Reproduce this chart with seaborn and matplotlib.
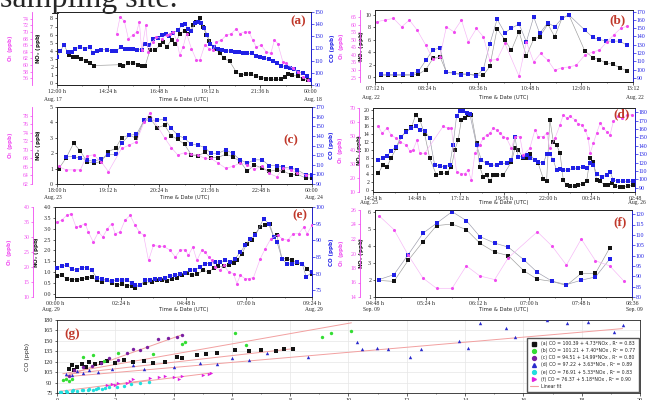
import numpy as np
import matplotlib
matplotlib.use("Agg")
import matplotlib.pyplot as plt
from matplotlib.ticker import AutoMinorLocator, FormatStrFormatter
from matplotlib.lines import Line2D
import seaborn as sns

# ---------------- panel (a): Aug 17-18, hours after 12:00 ----------------
A_T_NOX = [0.55, 0.75, 0.95, 1.15, 1.35, 1.55, 1.75, 2.98, 3.14, 3.37, 3.6, 3.84, 4.0, 4.16,
           4.39, 4.63, 4.86, 5.02, 5.18, 5.41, 5.57, 5.8, 6.04, 6.2, 6.43, 6.59, 6.75, 6.9, 7.06, 7.2,
           7.45, 7.7, 7.9, 8.16, 8.47, 8.7, 8.94, 9.18, 9.41, 9.65, 9.88, 10.1, 10.35, 10.6, 10.75,
           10.9, 11.1, 11.37, 11.6, 11.84]
A_NOX = [3.5, 3.3, 3.2, 3.0, 2.8, 2.5, 2.2, 2.3, 2.1, 2.5, 2.5, 2.3, 2.1, 2.1,
         4.1, 4.1, 4.7, 5.1, 4.5, 5.4, 4.8, 6.1, 6.5, 6.1, 7.2, 7.6, 8.0, 7.0, 6.0, 5.2,
         4.3, 3.7, 3.1, 2.7, 1.4, 1.0, 1.2, 1.1, 0.9, 0.7, 0.6, 0.5, 0.5, 0.5, 0.8,
         1.1, 1.0, 0.9, 0.6, 0.4]
A_T_CO = [0.0, 0.16, 0.33, 0.5, 0.7, 0.85, 1.1, 1.3, 1.55, 1.7, 1.9, 2.1, 2.35, 2.6, 2.8, 3.0,
          3.2, 3.4, 3.6, 3.8, 4.0, 4.15, 4.35, 4.55, 4.75, 4.95, 5.15, 5.3, 5.5, 5.7, 5.9, 6.05,
          6.2, 6.35, 6.5, 6.65, 6.8, 6.95, 7.1, 7.25, 7.4, 7.6, 7.8, 8.0, 8.2, 8.4, 8.6, 8.8,
          9.0, 9.2, 9.4, 9.6, 9.8, 10.0, 10.2, 10.4, 10.6, 10.8, 11.0, 11.2, 11.4, 11.6, 11.8, 12.0]
A_CO = [113, 118, 123, 117, 117, 120, 121, 120, 121, 116, 118, 119, 119, 118, 118, 121,
        120, 120, 120, 119, 119, 124, 123, 128, 129, 131, 132, 130, 133, 135, 139, 140,
        136, 134, 141, 142, 141, 137, 131, 124, 121, 120, 119, 118, 118, 117, 117, 116,
        116, 116, 114, 113, 112, 111, 110, 108, 106, 105, 104, 103, 101, 100, 97, 94]
A_T_O3 = [2.82, 2.98, 3.18, 3.37, 3.58, 3.76, 3.89, 4.0, 4.2, 4.31, 4.52, 4.7, 4.94, 5.18, 5.33,
          5.49, 5.65, 5.8, 5.96, 6.12, 6.35, 6.59, 6.75, 6.98, 7.2, 7.37, 7.53, 7.76, 8.0, 8.24,
          8.47, 8.63, 8.86, 9.07, 9.25, 9.41, 9.65, 9.88, 10.1, 10.27, 10.43, 10.67, 10.82,
          11.14, 11.37, 11.6, 11.84]
A_O3 = [69.5, 74.5, 73.3, 68.0, 69.0, 70.0, 73.0, 64.5, 72.0, 64.0, 67.0, 68.5, 68.0, 69.0, 69.5,
        70.0, 67.5, 63.0, 65.5, 69.5, 65.0, 61.5, 61.5, 66.0, 65.0, 64.5, 67.0, 67.5, 69.0, 69.5,
        71.0, 69.5, 70.0, 70.0, 67.5, 65.5, 66.0, 64.0, 63.5, 67.5, 66.5, 61.0, 60.5,
        59.0, 58.0, 56.5, 55.5]

# ---------------- panel (b): Aug 22, hours after 07:12 ----------------
B_T = [0.15, 0.31, 0.46, 0.66, 0.85, 1.01, 1.18, 1.35, 1.51, 1.66, 1.83, 2.01, 2.17, 2.36, 2.52,
       2.67, 2.84, 3.02, 3.17, 3.35, 3.52, 3.69, 3.83, 4.02, 4.18, 4.35, 4.51, 4.88, 5.07, 5.22,
       5.38, 5.53, 5.69, 5.86]
B_NOX = [0.3, 0.3, 0.3, 0.3, 0.3, 0.45, 1.2, 3.0, 3.3, 0.8, 0.65, 0.5, 0.5, 0.3, 0.3,
         1.7, 7.8, 6.0, 4.3, 7.3, 3.4, 6.1, 6.5, 8.5, 6.5, 9.5, 10.0, 4.2, 3.1, 2.8,
         2.2, 2.1, 1.5, 1.0]
B_CO = [94.3, 94.3, 94.3, 94.3, 94.3, 98, 111, 124, 126, 96.5, 95.7, 93.7, 94.5, 92.5, 100.5,
        131, 160.8, 144.4, 150, 155, 133.6, 163.6, 143.7, 156.6, 151.7, 162, 166, 147.7, 138.8,
        136.4, 134.4, 134.4, 134.4, 129.5]
B_T_O3 = [0.04, 0.23, 0.43, 0.62, 0.8, 0.98, 1.18, 1.35, 1.51, 1.66, 1.83, 2.01, 2.17, 2.36, 2.52,
          2.67, 2.84, 3.02, 3.35, 3.52, 3.69, 3.85, 4.02, 4.18, 4.35, 4.51, 4.68, 4.88, 5.07,
          5.22, 5.39, 5.55, 5.71, 5.87]
B_O3 = [62.2, 63.3, 64.4, 58.8, 63.3, 56.6, 46.6, 37, 38.7, 58.8, 55.5, 63.3, 48.8, 57.7, 52.1,
        36.5, 37, 47.7, 25.8, 48.8, 35.4, 41, 36.5, 29.8, 31.6, 32, 33.2, 39.9, 42.1,
        43.2, 48.8, 53.3, 57.7, 59.3]

# ---------------- panel (c): Aug 23-24, hours after 18:00 ----------------
C_T = [0.04, 0.21, 0.39, 0.55, 0.7, 0.86, 1.04, 1.21, 1.38, 1.52, 1.7, 1.87, 2.05, 2.18, 2.36,
       2.53, 2.69, 2.84, 3.0, 3.16, 3.31, 3.48, 3.62, 3.79, 3.97, 4.13, 4.31, 4.48, 4.64, 4.83,
       4.99, 5.17, 5.32, 5.5, 5.65, 5.85, 6.0]
C_NOX = [0.99, 1.67, 2.64, 2.15, 1.46, 1.35, 1.46, 2.1, 2.32, 3.0, 3.18, 2.96, 4.14, 4.29, 3.65,
         3.82, 3.13, 2.9, 2.58, 1.89, 1.82, 2.06, 1.72, 1.72, 1.93, 1.78, 1.46, 0.82, 1.24, 1.03,
         0.82, 0.92, 0.86, 0.6, 0.64, 0.39, 0.39]
C_T_CO = [0.21, 0.39, 0.55, 0.7, 0.86, 1.04, 1.21, 1.38, 1.52, 1.7, 1.87, 2.05, 2.18, 2.36,
          2.53, 2.69, 2.84, 3.0, 3.16, 3.31, 3.48, 3.62, 3.79, 3.97, 4.13, 4.31, 4.48, 4.64, 4.83,
          4.99, 5.17, 5.32, 5.5, 5.65, 5.85, 6.0]
C_CO = [118.5, 118.5, 116.8, 115.1, 113.4, 116.1, 120.2, 120.9, 132.2, 140.8, 141.5, 156.3, 156.3,
        156.3, 157.3, 147.7, 140.8, 137.4, 131.2, 130.5, 127.8, 121.9, 121.9, 125.4, 121.9, 115.1,
        111.6, 115.1, 115.1, 109.2, 109.2, 107.5, 106.5, 104.8, 99.6, 99.6]
C_T_O3 = [0.04, 0.21, 0.39, 0.55, 0.7, 0.86, 1.04, 1.21, 1.52, 1.7, 1.87, 2.05, 2.18, 2.53, 2.69,
          2.84, 3.0, 3.16, 3.31, 3.48, 3.62, 3.79, 3.97, 4.13, 4.31, 4.48, 4.64, 4.83, 4.99, 5.17,
          5.32, 5.5, 5.65, 5.85]
C_O3 = [66.1, 65.3, 65.3, 65.3, 68.6, 68.8, 67.2, 64.9, 70.3, 71.1, 71.9, 76.5, 78.5, 72.8, 70.5,
        68.8, 69.3, 68.9, 68.8, 68.0, 68.0, 66.9, 65.7, 66.1, 66.9, 66.5, 65.5, 66.1, 64.5, 63.7,
        65.7, 65.3, 64.5, 64.2]

# ---------------- panel (d): Aug 25-26 ----------------
D_T_NOX = [0.28, 0.55, 0.77, 1.0, 1.28, 1.56, 1.83, 2.11, 2.35, 2.57, 2.84, 3.12, 3.49, 3.76, 4.04,
           4.31, 4.5, 4.68, 4.86, 5.05, 5.23, 5.41, 5.69, 5.87, 6.06, 6.24, 6.42, 6.61, 6.79, 7.16,
           7.61, 7.8, 7.98, 8.26, 8.44, 8.62, 8.9, 9.08, 9.36, 9.54, 9.72, 9.91, 10.09, 10.28, 10.46,
           10.64, 10.83, 11.1, 11.28, 11.56, 11.74, 11.93, 12.11, 12.29, 12.48, 12.75, 12.94, 13.12,
           13.3, 13.58, 13.76, 14.04, 14.31]
D_NOX = [4.2, 6.25, 5.8, 8.1, 10.4, 13.3, 14.6, 15.6, 18.75, 17.5, 13.9, 7.9, 3.75, 4.2, 4.3,
         5.8, 10.0, 12.5, 17.5, 17.9, 18.6, 18.75, 11.7, 5.8, 3.3, 3.75, 2.25, 3.75, 3.9, 3.75,
         7.1, 10.4, 10.0, 8.1, 7.9, 8.9, 7.5, 6.7, 2.9, 2.25, 17.5, 12.1, 11.25, 9.2, 2.5,
         1.25, 1.0, 1.1, 1.25, 1.7, 2.25, 7.9, 7.1, 2.5, 2.25, 1.25, 1.4, 1.9,
         1.1, 0.8, 0.8, 1.1, 1.4]
D_T_CO = [0.28, 0.55, 0.77, 1.0, 1.28, 1.56, 1.83, 2.11, 2.35, 2.57, 2.84, 3.12, 3.39, 3.67, 3.94,
          4.22, 4.4, 4.59, 4.77, 4.95, 5.14, 5.32, 5.69, 5.96, 6.24, 6.51, 6.79, 7.06, 7.34, 7.61,
          7.8, 7.98, 8.26, 8.44, 8.62, 8.9, 9.08, 9.36, 9.54, 9.72, 9.91, 10.09, 10.28, 10.46,
          10.73, 11.0, 11.28, 11.56, 11.74, 11.93, 12.11, 12.29, 12.57, 12.84, 13.03, 13.21,
          13.49, 13.76, 14.04, 14.31]
D_CO = [123, 125, 127.8, 133.8, 139, 151, 157, 161, 163, 159, 157.8, 149, 117, 116.2, 115,
        117, 141, 175, 181.8, 181, 179, 177.8, 141, 123, 119, 117, 117, 119, 119, 123,
        151, 127, 127, 129, 125, 123, 121, 119, 129.8, 129.8, 123, 111, 112.2, 111,
        111, 113, 113.8, 115, 113, 119, 117, 107, 103, 105, 109, 99,
        97.8, 97.8, 97.8, 97.8]
D_T_O3 = [0.28, 0.51, 0.77, 1.0, 1.28, 1.47, 1.83, 2.02, 2.2, 2.42, 2.57, 2.84, 3.85, 4.13, 4.31,
          4.59, 4.86, 5.05, 5.23, 5.41, 5.6, 5.87, 6.06, 6.24, 6.42, 6.61, 6.79, 6.97, 7.16, 7.34,
          7.61, 7.8, 8.07, 8.26, 8.62, 8.9, 9.08, 9.36, 9.54, 9.72, 10.0, 10.28, 10.46, 10.64,
          10.83, 11.1, 11.28, 11.47, 11.65, 11.83, 11.93, 12.11, 12.29, 12.48, 12.66, 12.84,
          13.03, 13.21, 13.49, 13.67, 13.94, 14.22]
D_O3 = [56.8, 52, 55.6, 50.8, 48.4, 46, 43.6, 39.3, 40, 47.2, 37.6, 37.6, 56.8, 55.6, 55.6,
        24.4, 23.2, 23.2, 25.6, 18.4, 37.6, 43.6, 48.4, 50.8, 52, 55.6, 54.4, 52, 49.6, 48.4,
        41.2, 49.6, 49.6, 36.4, 41.2, 54.4, 49.6, 49.6, 52, 41.2, 48.4, 58, 65.2, 62.8,
        64, 61.6, 58.5, 58, 54.4, 48.4, 37.6, 44.8, 52, 59.2, 55.6, 53.2,
        50.8, 60.4, 64, 62.8, 64.7, 65.2]

# ---------------- panel (e): Aug 29, hours after 00:00 ----------------
E_T_NOX = [0.06, 0.24, 0.43, 0.61, 0.79, 0.98, 1.16, 1.34, 1.53, 1.71, 1.89, 2.08, 2.26, 2.44,
           2.63, 2.81, 2.93, 3.11, 3.3, 3.54, 3.72, 3.91, 4.09, 4.27, 4.46, 4.64, 4.82, 5.01, 5.19,
           5.43, 5.62, 5.8, 5.98, 6.17, 6.35, 6.53, 6.65, 6.84, 7.02, 7.2, 7.33, 7.51, 7.69, 7.85,
           8.0, 8.12, 8.3, 8.49, 8.67, 8.85, 9.04, 9.22, 9.4]
E_NOX = [0.8, 0.85, 0.69, 0.65, 0.65, 0.69, 0.74, 0.77, 0.62, 0.54, 0.62, 0.49, 0.42, 0.43,
         0.38, 0.38, 0.28, 0.42, 0.49, 0.54, 0.62, 0.65, 0.58, 0.69, 0.74, 0.85, 0.95, 0.85, 0.89,
         1.08, 1.0, 1.18, 1.26, 1.26, 1.31, 1.42, 1.54, 1.85, 2.31, 2.46, 2.77, 3.08, 3.15, 3.23,
         2.62, 2.69, 1.62, 1.62, 1.54, 1.42, 1.38, 1.15, 0.92]
E_T_CO = [0.06, 0.24, 0.43, 0.61, 0.79, 0.98, 1.16, 1.34, 1.53, 1.71, 1.89, 2.08, 2.26, 2.44,
          2.63, 2.81, 2.93, 3.11, 3.3, 3.48, 3.66, 3.85, 4.03, 4.21, 4.4, 4.58, 4.76, 4.95, 5.13,
          5.31, 5.49, 5.68, 5.86, 6.04, 6.23, 6.41, 6.59, 6.78, 6.96, 7.14, 7.33, 7.63, 7.81,
          8.0, 8.12, 8.3, 8.49, 8.67, 8.85, 9.04, 9.19, 9.4]
E_CO = [81.8, 82.2, 82.5, 81.5, 81, 81.8, 81.8, 81, 78.8, 78.5, 78, 77.8, 78.2, 78,
        78.2, 77.2, 76.5, 76.5, 78, 78.2, 78.5, 78.5, 78.8, 79.2, 79.5, 79.8, 80.2, 81, 81.2,
        82, 83, 83, 83.5, 83.5, 84, 83.5, 84.5, 86.5, 88.5, 90.5, 91.5, 96.5, 95,
        91, 89.5, 84.5, 83, 82.8, 83.5, 83, 79, 80.5]
E_T_O3 = [0.06, 0.24, 0.43, 0.59, 0.77, 0.92, 1.1, 1.22, 1.4, 1.59, 1.75, 1.92, 2.08, 2.2, 2.38,
          2.56, 2.75, 2.93, 3.09, 3.24, 3.42, 3.6, 3.79, 3.97, 4.21, 4.4, 4.58, 4.76, 4.88, 5.04,
          5.19, 5.37, 5.49, 5.62, 5.74, 5.86, 6.04, 6.17, 6.35, 6.53, 6.65, 6.78, 6.96, 7.08,
          7.26, 7.51, 7.69, 7.9, 8.14, 8.3, 8.51, 8.71, 8.91, 9.1, 9.22, 9.4]
E_O3 = [35, 35.6, 37.2, 37.8, 33.3, 33.6, 34.5, 31.7, 28.3, 31.7, 30, 32.8, 34.5, 31.1, 31.7,
        35.6, 37.2, 33.9, 31.7, 30.6, 22.2, 27.2, 26.9, 26.9, 25.6, 23.3, 25.6, 25.8, 23.9, 26.7,
        22.2, 25.6, 25, 23.3, 22.2, 20, 18.9, 20.6, 18.4, 17.8, 14.5, 17.2, 16.1, 16.1,
        16.5, 22.8, 26.1, 29.5, 30.6, 29.5, 28.9, 31.1, 31.1, 33.3, 31.1, 33.9]

# ---------------- panel (f): Sep 09 ----------------
F_T = [0.06, 0.28, 0.49, 0.71, 0.91, 1.14, 1.35, 1.55, 1.77, 1.97, 2.2, 2.4, 2.62, 2.83, 3.05,
       3.26, 3.47]
F_NOX = [1.98, 1.92, 3.16, 4.27, 5.22, 5.31, 4.98, 4.18, 3.65, 3.45, 2.55, 2.05, 1.92, 1.68, 2.4,
         2.4, 3.9]
F_CO = [88.4, 90.8, 100.4, 110.8, 115.6, 121.2, 116.9, 109.2, 106, 104.1, 98, 91.9, 87.6, 86, 88.1,
        89.7, 98.3]
F_T_O3 = [0.06, 0.28, 0.49, 0.71, 0.91, 1.14, 1.35, 1.55, 1.77, 1.97, 2.4, 2.62, 2.83, 3.05, 3.26,
          3.47, 3.68]
F_O3 = [25.2, 23.3, 19.8, 16.6, 15.2, 15.2, 18.3, 16.9, 16.4, 19.4, 23.0, 21.0, 18.4, 22.0, 19.0,
        18.3, 16.2]

# ---------------- panel (g): CO vs NOx ----------------
GA_X = [0.4, 0.5, 0.6, 0.7, 0.85, 1.0, 1.1, 1.3, 1.5, 1.7, 2.0, 2.3, 2.6, 3.0, 3.3, 3.7, 4.1, 4.3,
        4.8, 5.1, 5.5, 6.1, 6.6, 7.0, 7.5, 7.8, 8.1]
GA_Y = [110, 115, 108, 113, 117, 112, 119, 116, 118, 121, 118, 122, 120, 121, 118, 119, 127, 126,
        129, 131, 133, 137, 136, 137, 136, 138, 139]
GB_X = [0.2, 0.3, 0.4, 0.5, 0.9, 1.25, 1.6, 2.1, 3.3, 4.28, 4.4, 6.1, 6.5, 9.1, 9.4, 10.1]
GB_Y = [93, 95, 92, 95, 127, 130, 121, 132, 131, 146, 149, 161, 144, 156, 161, 164]
GC_X = [0.4, 0.6, 0.9, 1.2, 1.5, 1.8, 2.1, 2.4, 2.6, 2.85, 3.1, 3.45, 3.8, 4.1, 4.3]
GC_Y = [100, 108, 112, 114, 118, 125, 122, 132, 139, 137, 141, 153, 154, 155, 158]
GD_X = [0.3, 0.5, 0.7, 0.9, 1.1, 1.4, 1.9, 2.6, 3.0, 4.0, 4.9, 5.5, 6.0, 6.6, 7.2, 8.6, 10.3, 10.45,
        10.97, 11.36, 12.1, 12.5, 13.8, 14.1, 14.5, 15.4, 15.7, 16.8, 17.5, 18.2, 19.1, 19.4]
GD_Y = [103, 101, 106, 104, 108, 105, 110, 115, 109, 113, 118, 116, 125, 123, 132, 127, 149, 139,
        140, 139, 127, 138, 150, 140, 175, 169, 156, 180, 175, 177, 163, 173]
GE_X = [0.1, 0.15, 0.3, 0.35, 0.5, 0.55, 0.7, 0.85, 0.9, 1.05, 1.1, 1.25, 1.35, 1.4, 1.55, 1.65,
        1.8, 2.05, 2.3, 2.55, 2.85, 3.15]
GE_Y = [77, 76, 78, 77, 78, 79, 78, 80, 79, 80, 81, 80, 81, 82, 81, 82, 83, 84, 85, 88, 89, 91]
GF_X = [1.7, 1.9, 2.0, 2.1, 2.4, 2.5, 2.6, 3.2, 3.5, 3.7, 4.0, 4.2, 4.3, 5.0, 5.2, 5.3]
GF_Y = [86, 88, 87, 89, 90, 92, 95, 97, 98, 99, 98, 95, 100, 101, 103, 104]
FIT_KEYS = ["a", "b", "c", "d", "e", "f"]
FIT_B0 = [100.39, 101.21, 94.51, 97.22, 76.91, 76.37]
FIT_B1 = [4.73, 7.40, 14.99, 3.63, 5.33, 5.18]
FIT_R2 = [0.83, 0.77, 0.80, 0.89, 0.83, 0.90]

sns.set_theme(style="ticks")
plt.rcParams["font.family"] = ["DejaVu Sans"]
SERIF = "Liberation Serif"

W, H = 652, 400
PINK, BLUE, BLACK, RED = "#f04cf0", "#2020e6", "#141414", "#c0392b"

fig = plt.figure(figsize=(W / 100, H / 100), dpi=100)
fig.patch.set_facecolor("white")


def rect(x, y, w, h):
    return [x / W, 1 - (y + h) / H, w / W, h / H]


def put(x, y, s, **kw):
    fig.text(x / W, 1 - y / H, s, **kw)


def series(ax, t, v, color, line, marker, size):
    sns.lineplot(x=t, y=v, ax=ax, color=line, lw=0.45, estimator=None, sort=False)
    sns.scatterplot(x=t, y=v, ax=ax, color=color, marker=marker, s=size, linewidth=0, zorder=3)


def panel(box, nox, co, o3, xlim, xticks, xlabels, lims, yticks, o3_off, labx,
          letter, letter_xy, dates, date_y, nox_fmt="%g"):
    x0, y0, w, h = box
    ax = fig.add_axes(rect(*box))
    axc = ax.twinx()
    axo = ax.twinx()
    axo.spines["left"].set_position(("outward", o3_off * 0.72))
    axo.spines["left"].set_visible(True)
    axo.spines["right"].set_visible(False)
    axo.yaxis.set_ticks_position("left")
    axo.yaxis.set_label_position("left")

    series(axo, o3[0], o3[1], PINK, "#f6b4f6", "o", 5)
    series(ax, nox[0], nox[1], BLACK, "#9a9a9a", "s", 6)
    series(axc, co[0], co[1], BLUE, "#9a9aaa", "s", 6)

    ax.set_xlim(*xlim)
    ax.set_xticks(xticks)
    ax.set_xticklabels(xlabels)
    ax.xaxis.set_minor_locator(AutoMinorLocator(2))
    for a, lim, tk in zip((ax, axc, axo), lims, yticks):
        a.set_ylim(*lim)
        a.set_yticks(tk)
        a.tick_params(axis="both", which="major", labelsize=4.2, length=1.8, width=0.5, pad=1,
                      labelfontfamily=SERIF)
        a.tick_params(which="minor", length=1, width=0.4)
        for sp in a.spines.values():
            sp.set_linewidth(0.6)
    ax.yaxis.set_major_formatter(FormatStrFormatter(nox_fmt))
    axc.tick_params(axis="y", colors=BLUE)
    axc.spines["right"].set_color(BLUE)
    axo.tick_params(axis="y", colors=PINK, pad=0.8)
    axo.spines["left"].set_color(PINK)

    ax.set_ylabel("NO$_x$ (ppb)", fontsize=4.0, fontweight="bold", color=BLACK)
    axo.set_ylabel("O$_3$ (ppb)", fontsize=4.0, fontweight="bold", color=PINK)
    axc.set_ylabel("CO (ppb)", fontsize=4.0, fontweight="bold", color=BLUE)
    axo.yaxis.set_label_coords((labx[0] - x0) / w, 0.5)
    ax.yaxis.set_label_coords((labx[1] - x0) / w, 0.5)
    axc.yaxis.set_label_coords((labx[2] - x0) / w, 0.5)
    for a in (ax, axc, axo):
        a.set_xlabel("")

    put(letter_xy[0], letter_xy[1], letter, color=RED, fontsize=9.5, fontweight="bold",
        family=SERIF, ha="center", va="center")
    put(x0 - 4, date_y, dates[0], fontsize=4, family=SERIF, ha="center", va="center")
    put(x0 + w / 2, date_y, "Time & Date (UTC)", fontsize=3.8, ha="center", va="center")
    put(x0 + w + 2, date_y, dates[1], fontsize=4, family=SERIF, ha="center", va="center")


# page text fragment above the figure
put(0, 7, "sampling site.", fontsize=23, family=SERIF, ha="left", va="baseline")

panel((57, 12, 254, 73), (A_T_NOX, A_NOX), (A_T_CO, A_CO), (A_T_O3, A_O3),
      (0, 12), np.arange(0, 12.1, 2.4),
      ["12:00 h", "14:24 h", "16:48 h", "19:12 h", "21:36 h", "00:00"],
      [(-0.2, 8.8), (90, 150), (54, 76)],
      [range(0, 9), range(90, 151, 10), range(56, 75, 2)],
      25, (15, 43, 330), "(a)", (298, 21), ("Aug. 17", "Aug. 18"), 100)

panel((375, 10, 258, 72), (B_T, B_NOX), (B_T, B_CO), (B_T_O3, B_O3),
      (0, 6), np.arange(0, 6.1, 1.2),
      ["07:12 h", "08:24 h", "09:36 h", "10:48 h", "12:00 h", "13:12"],
      [(-0.8, 10.8), (85, 172), (22, 70)],
      [range(0, 11, 2), range(90, 171, 10), range(25, 70, 5)],
      15, (346, 366, 662), "(b)", (617, 20), ("Aug. 22", "Aug. 22"), 98)

panel((57, 107, 255, 77), (C_T, C_NOX), (C_T_CO, C_CO), (C_T_O3, C_O3),
      (0, 6), np.arange(0, 6.1, 1.2),
      ["18:00 h", "19:12 h", "20:24 h", "21:36 h", "22:48 h", "00:00"],
      [(0, 5), (90, 170), (62, 80)],
      [range(0, 6), range(90, 171, 10), range(62, 80, 2)],
      25, (15, 43, 329), "(c)", (291, 140), ("Aug. 23", "Aug. 24"), 198)

panel((373, 108, 262, 84), (D_T_NOX, D_NOX), (D_T_CO, D_CO), (D_T_O3, D_O3),
      (0, 14.4), np.linspace(0, 14.4, 7),
      ["14:24 h", "14:48 h", "17:12 h", "19:36 h", "22:00 h", "00:24 h", "02:48"],
      [(-0.4, 20.4), (85, 185), (10, 70)],
      [range(0, 21, 2), range(90, 181, 10), range(10, 71, 10)],
      14, (345, 364, 662), "(d)", (622, 114), ("Aug. 25", "Aug. 26"), 203)

panel((55, 207, 257, 90), (E_T_NOX, E_NOX), (E_T_CO, E_CO), (E_T_O3, E_O3),
      (0, 9.4), [0, 2.4, 4.8, 7.0, 9.4],
      ["00:00 h", "02:24 h", "04:48 h", "07:00 h", "09:24 h"],
      [(-0.15, 4.0), (73, 100), (10, 40)],
      [np.arange(0, 4.01, 0.5), range(75, 101, 5), range(10, 41, 5)],
      22, (14, 41, 329), "(e)", (300, 215), ("Aug. 29", "Aug. 29"), 310, "%.1f")

panel((375, 210, 257, 87), (F_T, F_NOX), (F_T, F_CO), (F_T_O3, F_O3),
      (0, 3.8), np.linspace(0, 3.8, 6),
      ["04:48 h", "05:24 h", "06:12 h", "07:00 h", "07:48 h", "08:36"],
      [(1, 6.14), (80, 122), (14, 26)],
      [range(1, 7), range(80, 121, 5), range(14, 27, 2)],
      15, (346, 366, 662), "(f)", (620, 222), ("Sep. 09", "Sep. 09"), 310)

# ---------------- panel (g) ----------------
axg = fig.add_axes(rect(57, 320, 583, 73))
axg.set_axisbelow(True)
axg.grid(True, color="#e6e6e6", lw=0.5)
groups_x = [GA_X, GB_X, GC_X, GD_X, GE_X, GF_X]
groups_y = [GA_Y, GB_Y, GC_Y, GD_Y, GE_Y, GF_Y]
colors = [BLACK, "#33dd33", "#7b1fa2", "#2a2acc", "#22dede", "#e020e0"]
markers = ["s", "o", "o", "^", "o", ">"]
handles, labels = [], []
for k, gx, gy, col, mk, b0, b1, r2 in zip(FIT_KEYS, groups_x, groups_y, colors, markers,
                                          FIT_B0, FIT_B1, FIT_R2):
    sns.scatterplot(x=gx, y=gy, ax=axg, color=col, marker=mk, s=6, linewidth=0, zorder=3)
    handles.append(Line2D([], [], ls="none", marker=mk, color=col, ms=2.8))
    labels.append(f"({k}) CO = {b0:.2f} + {b1:.2f}*NOx , R² = {r2:.2f}")
for gx, b0, b1 in zip(groups_x, FIT_B0, FIT_B1):
    xs = np.array([min(gx), max(gx)])
    sns.lineplot(x=xs, y=b0 + b1 * xs, ax=axg, color="#f2a0a0", lw=0.7, estimator=None, zorder=2)
handles.append(Line2D([], [], color="#f2a0a0", lw=0.8))
labels.append("Linear fit")

axg.set_xlim(0, 20)
axg.set_ylim(75, 180)
axg.set_xticks(range(0, 21, 2))
axg.set_yticks(range(75, 181, 15))
axg.xaxis.set_minor_locator(AutoMinorLocator(2))
axg.tick_params(axis="both", labelsize=4.5, length=1.8, width=0.5, pad=1.5, labelfontfamily=SERIF)
axg.tick_params(which="minor", length=1, width=0.4)
for sp in axg.spines.values():
    sp.set_linewidth(0.6)
axg.set_ylabel("CO (ppb)", fontsize=4.5)
axg.yaxis.set_label_coords((30 - 57) / 583, 0.5)
axg.set_xlabel("")
leg = axg.legend(handles, labels, loc="lower right", fontsize=3.3, frameon=True, fancybox=False,
                 edgecolor="#555555", framealpha=1, labelspacing=0.45, borderpad=0.7,
                 handlelength=1.6, borderaxespad=0.25)
leg.get_frame().set_linewidth(1.0)
put(72, 334, "(g)", color=RED, fontsize=9.5, fontweight="bold", family=SERIF,
    ha="center", va="center")

fig.savefig("out.png", dpi=100)
